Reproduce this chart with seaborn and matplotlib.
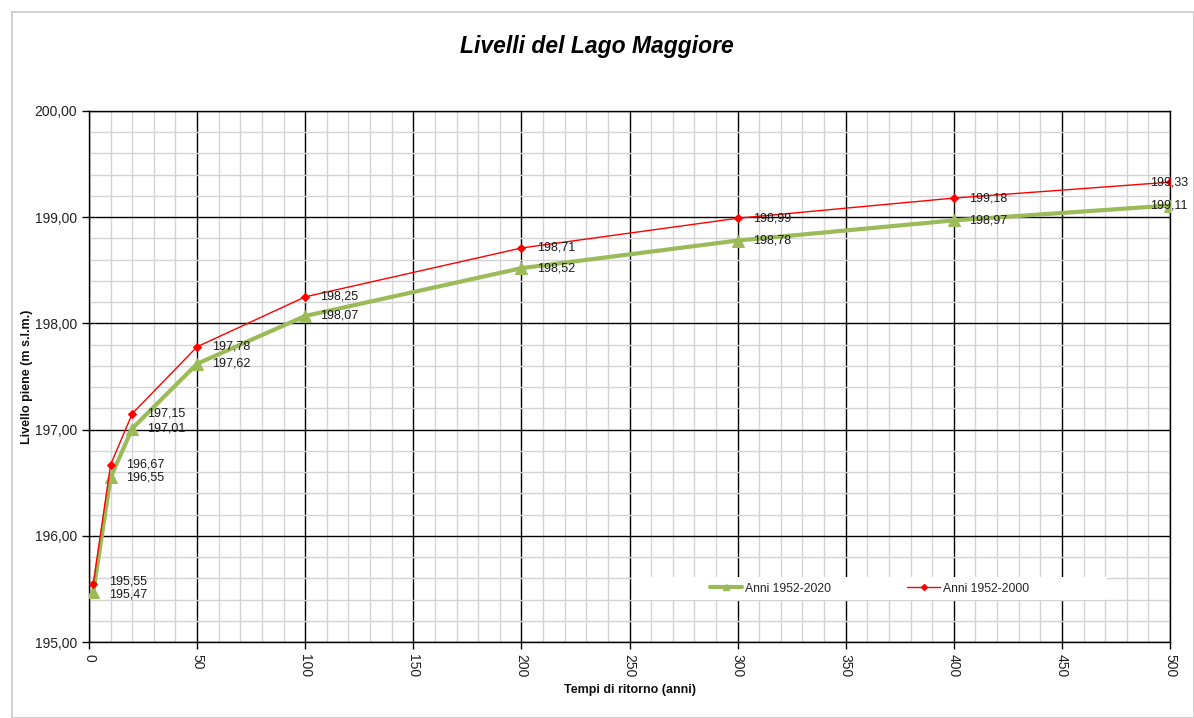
import matplotlib
matplotlib.use("Agg")
import matplotlib.pyplot as plt
import seaborn as sns
import numpy as np
from matplotlib.ticker import MultipleLocator, FuncFormatter
from matplotlib.lines import Line2D
from matplotlib.patches import Rectangle

# Data
tempi = [2, 10, 20, 50, 100, 200, 300, 400, 500]
livelli_1952_2020 = [195.47, 196.55, 197.01, 197.62, 198.07, 198.52, 198.78, 198.97, 199.11]
livelli_1952_2000 = [195.55, 196.67, 197.15, 197.78, 198.25, 198.71, 198.99, 199.18, 199.33]
serie_labels = ["Anni 1952-2020", "Anni 1952-2000"]

sns.set_style("white")
plt.rcParams['font.family'] = ['Liberation Sans', 'DejaVu Sans']

fig = plt.figure(figsize=(11.94, 7.18), dpi=100)
ax = fig.add_axes([89/1194, 76/718, (1170-89)/1194, (642-111)/718])

green = "#9BBB59"
red = "#FF0000"

sns.lineplot(x=tempi, y=livelli_1952_2020, ax=ax, color=green, linewidth=3,
             marker="^", markersize=9, markeredgecolor=green, zorder=4)
sns.lineplot(x=tempi, y=livelli_1952_2000, ax=ax, color=red, linewidth=1,
             marker="D", markersize=4.5, markeredgecolor=red, zorder=5)

ax.set_xlim(0, 500)
ax.set_ylim(195, 200)
ax.xaxis.set_major_locator(MultipleLocator(50))
ax.xaxis.set_minor_locator(MultipleLocator(10))
ax.yaxis.set_major_locator(MultipleLocator(1))
ax.yaxis.set_minor_locator(MultipleLocator(0.2))
ax.yaxis.set_major_formatter(FuncFormatter(lambda v, p: f"{v:.2f}".replace('.', ',')))
ax.grid(which='minor', color='#d4d4d4', linewidth=1, zorder=0)
ax.grid(which='major', color='black', linewidth=1, zorder=1)
ax.set_axisbelow(True)
for s in ax.spines.values():
    s.set_color('black')
    s.set_linewidth(1)
    s.set_visible(True)
ax.tick_params(which='major', direction='out', length=5, width=1, color='black',
               labelsize=10, labelcolor='#222222', left=True, bottom=True)
ax.tick_params(which='minor', length=0)
ax.tick_params(axis='x', labelrotation=-90)

ax.set_xlabel("Tempi di ritorno (anni)", fontsize=9, fontweight='bold', labelpad=5,
              color='#111111')
ax.set_ylabel("Livello piene (m s.l.m.)", fontsize=9, fontweight='bold', labelpad=1,
              color='#111111')
fig.suptitle("Livelli del Lago Maggiore", fontsize=16.5, fontweight='bold', style='italic',
             x=0.5, y=1-47/718, va='center', color='black')

fmt = lambda v: f"{v:.2f}".replace('.', ',')
for i, x in enumerate(tempi):
    off = 11 if i < len(tempi) - 1 else -14
    dy = 1.5 if i == 0 else 0
    ax.annotate(fmt(livelli_1952_2020[i]), (x, livelli_1952_2020[i]), xytext=(off, -dy),
                textcoords='offset points', ha='left', va='center', fontsize=9,
                color='#1a1a1a', zorder=6, annotation_clip=False)
    ax.annotate(fmt(livelli_1952_2000[i]), (x, livelli_1952_2000[i]), xytext=(off, dy),
                textcoords='offset points', ha='left', va='center', fontsize=9,
                color='#1a1a1a', zorder=6, annotation_clip=False)

# white legend area
ax.add_patch(Rectangle((0.502, 0.079), 0.44, 0.043, transform=ax.transAxes,
                       facecolor='white', edgecolor='none', zorder=3))

handles = [Line2D([], [], color=green, linewidth=3, marker='^', markersize=4),
           Line2D([], [], color=red, linewidth=1, marker='D', markersize=3)]
leg = ax.legend(handles, serie_labels, ncol=2, loc='center',
                bbox_to_anchor=(0.502 + 0.22, 0.079 + 0.0215),
                frameon=False, fontsize=8.7, handlelength=2.7, handletextpad=0.25,
                borderaxespad=0, columnspacing=6.3)
leg.set_zorder(7)

# chart area border
fig.patches.append(Rectangle((12/1194, 0), 1 - 12/1194, 1 - 12/718, transform=fig.transFigure,
                             fill=False, edgecolor='#c8c8c8', linewidth=1.2))

fig.savefig("out.png", dpi=100)
